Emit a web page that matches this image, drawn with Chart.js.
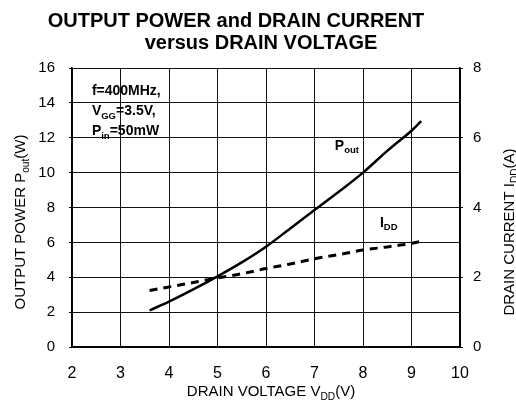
<!DOCTYPE html>
<html>
<head>
<meta charset="utf-8">
<script src="https://cdn.jsdelivr.net/npm/chart.js@4.4.0/dist/chart.umd.min.js"></script>
<style>
  html, body { margin: 0; padding: 0; background: #fff; }
</style>
</head>
<body>
<canvas id="chart" width="516" height="400"></canvas>
<script>
// values
const drainVoltage = [3.6, 4, 4.5, 5, 5.5, 6, 6.5, 7, 7.5, 8, 8.5, 8.65, 9, 9.2];
const outputPower = [2.1, 2.6, 3.3, 4.05, 4.85, 5.75, 6.8, 7.85, 8.9, 10.0, 11.25, 11.6, 12.4, 12.95];
const drainCurrent = [1.62, 1.72, 1.85, 1.98, 2.1, 2.25, 2.38, 2.53, 2.65, 2.78, 2.87, 2.9, 2.97, 3.03];

const titleLines = ["OUTPUT POWER and DRAIN CURRENT", "versus DRAIN VOLTAGE"];
const noteLines = [
  [["f=400MHz,"]],
  [["V"], ["GG", 1], ["=3.5V,"]],
  [["P"], ["in", 1], ["=50mW"]]
];

const FONT = '"Liberation Sans", Arial, sans-serif';
Chart.defaults.font.family = FONT;
Chart.defaults.color = "#000";

function fontStr(size, bold) {
  return (bold ? "bold " : "") + size + "px " + FONT;
}

// text with subscripts: parts = [[text, isSub], ...]
function drawRich(ctx, parts, x, y, size, bold, align) {
  const sub = size * 0.68;
  let w = 0;
  parts.forEach(p => { ctx.font = fontStr(p[1] ? sub : size, bold); w += ctx.measureText(p[0]).width; });
  let cx = align === "center" ? x - w / 2 : x;
  parts.forEach(p => {
    ctx.font = fontStr(p[1] ? sub : size, bold);
    ctx.fillText(p[0], cx, y + (p[1] ? size * 0.25 : 0));
    cx += ctx.measureText(p[0]).width;
  });
}

const textPlugin = {
  id: "texts",
  afterDraw(chart) {
    const ctx = chart.ctx;
    const x = chart.scales.x, yP = chart.scales.yP;
    ctx.save();
    ctx.fillStyle = "#000";
    ctx.textAlign = "left";
    ctx.textBaseline = "alphabetic";

    // title
    drawRich(ctx, [[titleLines[0]]], 236, 27, 20, true, "center");
    drawRich(ctx, [[titleLines[1]]], 261, 49, 20, true, "center");

    // conditions box
    noteLines.forEach((ln, i) => {
      drawRich(ctx, ln, x.getPixelForValue(2.41), 95 + i * 20, 14, true, "left");
    });

    // curve labels
    drawRich(ctx, [["P"], ["out", 1]], x.getPixelForValue(7.42), yP.getPixelForValue(11.3), 14, true, "left");
    drawRich(ctx, [["I"], ["DD", 1]], x.getPixelForValue(8.35), yP.getPixelForValue(6.9), 14, true, "left");

    // axis titles
    drawRich(ctx, [["DRAIN VOLTAGE V"], ["DD", 1], ["(V)"]], 271, 396, 15, false, "center");

    ctx.save();
    ctx.translate(25, 222);
    ctx.rotate(-Math.PI / 2);
    drawRich(ctx, [["OUTPUT POWER P"], ["out", 1], ["(W)"]], 0, 0, 15, false, "center");
    ctx.restore();

    ctx.save();
    ctx.translate(514, 232);
    ctx.rotate(-Math.PI / 2);
    drawRich(ctx, [["DRAIN CURRENT I"], ["DD", 1], ["(A)"]], 0, 0, 15, false, "center");
    ctx.restore();

    ctx.restore();
  }
};

const gridColor = "#111";

new Chart(document.getElementById("chart"), {
  type: "line",
  data: {
    datasets: [
      {
        label: "Pout",
        data: drainVoltage.map((v, i) => ({ x: v, y: outputPower[i] })),
        yAxisID: "yP",
        borderColor: "#000",
        borderWidth: 2.5,
        pointRadius: 0,
        cubicInterpolationMode: "monotone"
      },
      {
        label: "IDD",
        data: drainVoltage.map((v, i) => ({ x: v, y: drainCurrent[i] })),
        yAxisID: "yI",
        borderColor: "#000",
        borderWidth: 3,
        borderDash: [8, 6],
        pointRadius: 0,
        cubicInterpolationMode: "monotone"
      }
    ]
  },
  options: {
    responsive: false,
    animation: false,
    layout: { padding: { top: 68, left: 0, right: 0, bottom: 0 } },
    plugins: { legend: { display: false }, tooltip: { enabled: false } },
    scales: {
      x: {
        type: "linear",
        min: 2, max: 10,
        ticks: { stepSize: 1, padding: 17, font: { size: 16 } },
        grid: { color: gridColor, lineWidth: 1, tickLength: 0 },
        border: { color: "#000", width: 1.5 },
        afterFit: s => { s.height = 53; }
      },
      yP: {
        position: "left",
        min: 0, max: 16,
        ticks: { stepSize: 2, padding: 14, font: { size: 15 } },
        grid: { color: gridColor, lineWidth: 1, tickLength: 3 },
        border: { color: "#000", width: 1.5 },
        afterFit: s => { s.width = 72; }
      },
      yI: {
        position: "right",
        min: 0, max: 8,
        ticks: { stepSize: 2, padding: 10, font: { size: 15 } },
        grid: { drawOnChartArea: false, color: gridColor, tickLength: 3 },
        border: { color: "#000", width: 1.5 },
        afterFit: s => { s.width = 56; }
      }
    }
  },
  plugins: [textPlugin]
});
</script>
</body>
</html>
